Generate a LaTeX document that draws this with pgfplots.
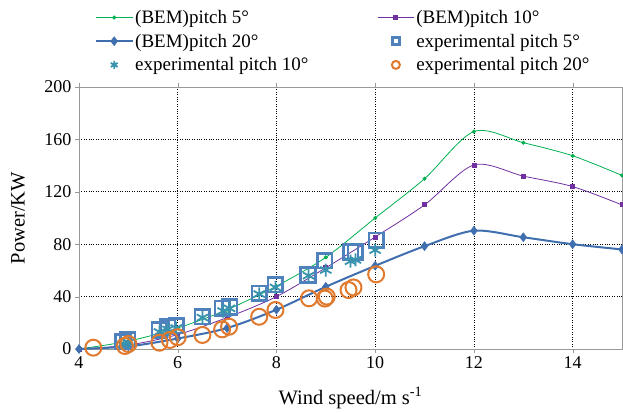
\documentclass[border=0pt]{standalone}
\usepackage{fontspec}
\setmainfont{Liberation Serif}
\usepackage{pgfplots}
\pgfplotsset{compat=1.18}
\definecolor{cg}{HTML}{00B050}
\definecolor{cp}{HTML}{7030A0}
\definecolor{cb}{HTML}{3F6FAE}
\definecolor{csq}{HTML}{4F81BD}
\definecolor{cte}{HTML}{3A93AE}
\definecolor{cor}{HTML}{E07A2E}
\begin{document}
\begin{tikzpicture}
\begin{axis}[
  scale only axis, width=543pt, height=262pt,
  xmin=4, xmax=15, ymin=0, ymax=200,
  xtick={4,6,8,10,12,14}, ytick={0,40,80,120,160,200},
  /pgf/number format/assume math mode=true,
  ticklabel style={font=\fontsize{18}{21}\selectfont},
  grid=major, major grid style={black, dotted, line width=0.8pt},
  axis line style={gray!80, line width=0.8pt},
  tick style={gray!80}, tick align=outside, major tick length=4pt,
  xlabel={Wind speed/m s\textsuperscript{-1}},
  ylabel={Power/KW},
  every axis x label/.style={at={(rel axis cs:0.5,0)}, yshift=-49pt, anchor=center, font=\fontsize{20.5}{24}\selectfont},
  every axis y label/.style={at={(rel axis cs:0,0.5)}, xshift=-61pt, rotate=90, anchor=center, font=\fontsize{20.5}{24}\selectfont},
  legend columns=2,
  legend image code/.code={\draw[mark repeat=2,mark phase=2,#1] plot coordinates {(0pt,0pt)(18pt,0pt)(36pt,0pt)};},
  legend style={at={(rel axis cs:0,1)}, anchor=north west, xshift=16pt, yshift=79pt, draw=none, fill=none, inner sep=0pt,
    font=\fontsize{19}{22}\selectfont, cells={anchor=west}, row sep=5pt,
    /tikz/every even column/.append style={column sep=67pt}},
]
\coordinate (ll) at (rel axis cs:0,0);
\coordinate (ur) at (rel axis cs:1,1);
\addplot[cg, line width=0.8pt, smooth, mark=*, mark size=1.6pt] coordinates {
(4,0)(5,6)(6,16)(7,30)(8,48)(9,70)(10,100)(11,130)(12,166)(13,157.5)(14,147.5)(15,132.5)};
\addlegendentry{(BEM)pitch 5°}
\addplot[cp, line width=0.8pt, smooth, mark=square*, mark size=2pt] coordinates {
(4,0)(5,3)(6,11)(7,24)(8,40)(9,62)(10,85.5)(11,110)(12,140.5)(13,132)(14,124)(15,110)};
\addlegendentry{(BEM)pitch 10°}
\addplot[cb, line width=2pt, smooth, mark=diamond*, mark size=4.5pt, mark options={line width=0.5pt}] coordinates {
(4,0)(5,2)(6,8)(7,16)(8,30)(9,47.5)(10,63.5)(11,78.5)(12,90.3)(13,85.3)(14,80)(15,76)};
\addlegendentry{(BEM)pitch 20°}
\addplot[only marks, csq, mark=square, mark size=7.3pt, line width=2.6pt, legend image post style={mark size=3.5pt}] coordinates {
(4.89,5.6)(4.99,7)(5.63,14.5)(5.8,17)(5.97,17.8)(6.5,24.6)(6.9,31)(7.05,32)(7.65,42.6)(7.98,49)(8.64,56.5)(8.98,67.4)(9.5,74)(9.6,74)(10.02,83)};
\addlegendentry{experimental pitch 5°}
\addplot[only marks, cte, mark=asterisk, mark size=6.5pt, line width=1.8pt, legend image post style={mark size=4pt}] coordinates {
(4.9,4)(5.0,5)(5.63,13)(5.8,15)(5.97,16)(6.5,24)(6.92,29)(7.05,31)(7.65,42)(7.98,47)(8.65,56)(9.0,60.3)(9.5,67)(9.6,68)(10.0,75.5)};
\addlegendentry{experimental pitch 10°}
\addplot[only marks, cor, mark=o, mark size=8pt, line width=2pt, legend image post style={mark size=4pt}] coordinates {
(4.29,1)(4.93,2.3)(5.0,3.8)(5.63,4.8)(5.84,6.9)(6.0,9)(6.5,10.7)(6.9,15)(7.04,17)(7.65,24.6)(7.98,29.8)(8.66,38.7)(8.98,38.5)(9.02,40)(9.46,45)(9.56,47)(10.02,57)};
\addlegendentry{experimental pitch 20°}
\end{axis}
\pgfresetboundingbox
\path[use as bounding box] ([xshift=-79pt,yshift=-63pt]ll) rectangle ([xshift=1pt,yshift=87pt]ur);
\end{tikzpicture}
\end{document}
